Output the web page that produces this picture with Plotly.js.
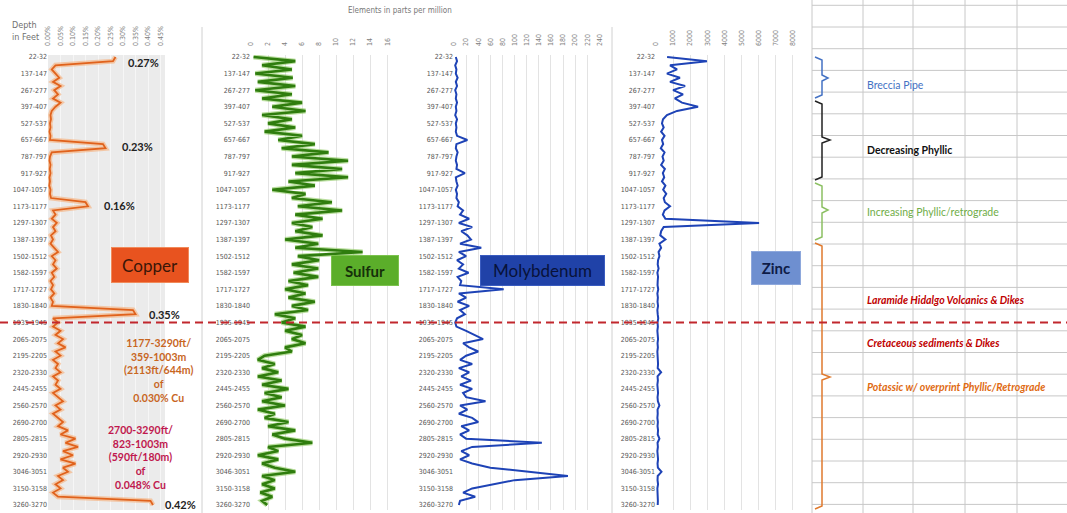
<!DOCTYPE html>
<html><head><meta charset="utf-8">
<script src="https://cdn.plot.ly/plotly-3.0.1.min.js"></script>
<style>html,body{margin:0;padding:0;background:#fff;}#chart{width:1067px;height:513px;}</style>
</head><body><div id="chart"></div>
<script>
// ---- data ----
const depthLabels = ["22-32","137-147","267-277","397-407","527-537","657-667","787-797","917-927","1047-1057","1173-1177","1297-1307","1387-1397","1502-1512","1582-1597","1717-1727","1830-1840","1935-1945","2065-2075","2195-2205","2320-2330","2445-2455","2560-2570","2690-2700","2805-2815","2920-2930","3046-3051","3150-3158","3260-3270"];
const samplesPerLabel = 4;
const copperPct = [
 0.27,0.26,0.03,0.015,0.03,0.045,0.02,0.05,0.025,0.04,
 0.02,0.05,0.03,0.015,0.01,0.012,0.008,0.01,0.006,0.01,
 0.008,0.22,0.23,0.015,0.008,0.006,0.01,0.007,0.01,0.006,
 0.008,0.005,0.01,0.008,0.012,0.15,0.16,0.02,0.03,0.015,
 0.035,0.02,0.03,0.012,0.02,0.01,0.025,0.04,0.015,0.03,
 0.02,0.035,0.015,0.025,0.01,0.02,0.012,0.025,0.01,0.02,
 0.015,0.34,0.35,0.02,0.04,0.02,0.05,0.03,0.06,0.04,
 0.07,0.03,0.05,0.02,0.04,0.03,0.05,0.02,0.04,0.03,
 0.05,0.02,0.04,0.06,0.03,0.05,0.02,0.04,0.06,0.04,
 0.08,0.05,0.11,0.07,0.12,0.06,0.10,0.05,0.11,0.06,
 0.08,0.04,0.06,0.03,0.05,0.02,0.04,0.41,0.42];
const sulfur = [
 0.3,5.2,1.3,4.8,0.5,4.9,0.8,5.2,0.5,4.8,
 1.3,6.0,2.5,6.4,1.3,4.8,2.0,5.2,1.6,6.0,
 3.2,7.5,3.6,9.1,4.8,11.4,4.8,10.7,5.2,11.4,
 4.4,7.5,2.5,6.4,4.8,9.5,5.5,10.7,5.2,8.4,
 4.8,7.2,5.2,8.4,4.0,7.9,5.2,13.1,5.5,8.0,
 4.8,7.9,5.0,7.9,4.4,6.7,4.0,6.4,4.4,7.5,
 4.8,6.7,2.8,5.2,3.6,6.4,4.0,6.0,4.8,6.4,
 4.0,4.8,1.6,0.8,2.8,1.3,3.2,0.8,3.6,1.3,
 4.4,1.6,3.6,1.3,4.0,0.8,2.8,1.6,4.4,2.0,
 5.2,2.5,4.0,7.2,2.0,3.2,0.8,3.2,1.3,2.8,
 5.2,1.3,2.8,1.3,2.8,1.1,2.5,1.3,1.9];
const molybdenum = [
 3,5,2,4,3,6,3,5,2,4,
 3,5,3,4,2,5,3,4,3,5,
 22,4,3,6,4,3,5,4,18,3,
 4,6,3,5,4,8,6,15,10,25,
 8,30,12,22,28,10,45,8,20,5,
 15,8,24,6,12,10,82,8,20,6,
 25,10,18,5,2,4,20,35,48,15,
 25,40,20,10,30,8,25,12,28,10,
 30,15,20,52,10,22,8,30,40,12,
 25,10,20,145,30,12,25,10,30,60,
 130,188,100,62,30,15,35,10,8];
const zinc = [
 650,2980,820,1230,640,1400,820,1700,1000,1580,
 1100,1520,2460,1230,640,410,350,450,300,500,
 350,420,280,500,380,450,300,520,400,480,
 350,550,420,600,450,520,820,500,400,550,
 6030,450,300,250,550,200,300,150,200,120,
 100,150,80,120,100,90,130,80,110,90,
 120,80,100,130,90,110,80,100,120,90,
 110,80,100,90,120,100,300,90,110,80,
 100,120,90,110,200,90,100,80,110,90,
 120,100,200,90,110,80,100,120,90,110,
 320,100,90,120,80,100,90,110,100];
const panelNames = ["Copper","Sulfur","Molybdenum","Zinc"];
const zoneLabels = ["Breccia Pipe","Decreasing Phyllic","Increasing Phyllic/retrograde","Laramide Hidalgo Volcanics & Dikes","Cretaceous sediments & Dikes","Potassic w/ overprint Phyllic/Retrograde"];
const copperPeakLabels = ["0.27%","0.23%","0.16%","0.35%","0.42%"];
const copperSummary1 = ["1177-3290ft/","359-1003m","(2113ft/644m)","of","0.030% Cu"];
const copperSummary2 = ["2700-3290ft/","823-1003m","(590ft/180m)","of","0.048% Cu"];

// ---- layout helpers ----
const W=1067,H=513;
const px = v => v/W, py = v => 1 - v/H;
const idx = arr => arr.map((_,i)=>i);
const tickvals = depthLabels.map((_,i)=>i*samplesPerLabel);
const NARROW = "Liberation Sans Narrow, DejaVu Sans Condensed, Arial Narrow, sans-serif";
const yDom = [py(510), py(55)];
const yRange = [109.2, -0.48];

function yax(anchor){
  return {domain:yDom, range:yRange, anchor:anchor, tickvals:tickvals, ticktext:depthLabels,
    tickfont:{family:NARROW,size:7,color:'#555'}, showgrid:false, zeroline:false, showline:false, ticks:'', fixedrange:true};
}
function xax(anchor, d0, d1, range, dtick, extra){
  return Object.assign({domain:[px(d0),px(d1)], range:range, anchor:anchor, side:'top', dtick:dtick, tick0:0,
    tickangle:-90, ticklabelstandoff:8, tickfont:{family:NARROW,size:7,color:'#808080'}, showgrid:true, gridcolor:'#e3e3e3',
    zeroline:false, showline:false, ticks:'', fixedrange:true}, extra||{});
}

const traces = [
  {x:copperPct, y:idx(copperPct), xaxis:'x', yaxis:'y', mode:'lines', line:{color:'rgba(246,178,128,0.65)',width:5}},
  {x:copperPct, y:idx(copperPct), xaxis:'x', yaxis:'y', mode:'lines', line:{color:'#E0621C',width:1.8}},
  {x:sulfur, y:idx(sulfur), xaxis:'x2', yaxis:'y2', mode:'lines', line:{color:'rgba(130,195,80,0.55)',width:5}},
  {x:sulfur, y:idx(sulfur), xaxis:'x2', yaxis:'y2', mode:'lines', line:{color:'#2F7D0E',width:2.6}},
  {x:molybdenum, y:idx(molybdenum), xaxis:'x3', yaxis:'y3', mode:'lines', line:{color:'#1E43B6',width:2}},
  {x:zinc, y:idx(zinc), xaxis:'x4', yaxis:'y4', mode:'lines', line:{color:'#1E43B6',width:2}}
];

const shapes = [];
shapes.push({type:'rect', xref:'x domain', yref:'y domain', x0:0,x1:1,y0:0,y1:1, fillcolor:'#ebebeb', line:{width:0}, layer:'below'});
[202,612].forEach(x=>shapes.push({type:'line',xref:'paper',yref:'paper',x0:px(x),x1:px(x),y0:py(27),y1:py(513),line:{color:'#d0d0d0',width:1}}));
[812,863,913,965,1017].forEach(x=>shapes.push({type:'line',xref:'paper',yref:'paper',x0:px(x),x1:px(x),y0:0,y1:1,line:{color:'#c8c8c8',width:1}}));
for(let k=0;k<24;k++){const y=5.3+21.7*k; shapes.push({type:'line',xref:'paper',yref:'paper',x0:px(812),x1:1,y0:py(y),y1:py(y),line:{color:'#c8c8c8',width:1}});}
function brace(top,bot,mid,tipx,color){
  const xl=px(815), xv=px(822), xt=px(tipx);
  const t=py(top), b=py(bot), m=py(mid), r=3/H;
  return {type:'path', xref:'paper', yref:'paper',
    path:`M ${xl},${t} L ${xv},${t-r} L ${xv},${m+r} L ${xt},${m} L ${xv},${m-r} L ${xv},${b+r} L ${xl},${b}`,
    line:{color:color,width:1.5}};
}
shapes.push(brace(57,98,78,828,'#4472C4'));
shapes.push(brace(101,180,140,830,'#222222'));
shapes.push(brace(183,240,210,828,'#8CC063'));
shapes.push(brace(243,509,377,830,'#E07A2E'));
shapes.push({type:'line',xref:'paper',yref:'paper',x0:0,x1:1,y0:py(322.5),y1:py(322.5),line:{color:'#C1272D',width:2,dash:'8px,5px'}});

const ann = [];
function txt(text,x,y,opts){ann.push(Object.assign({text:text,x:px(x),y:py(y),xref:'paper',yref:'paper',showarrow:false,xanchor:'center',yanchor:'middle'},opts||{}));}
txt('Depth<br>in Feet',10,31,{xanchor:'left',align:'left',font:{family:NARROW,size:9,color:'#707070'}});
txt('Elements in parts per million',400,11,{font:{family:NARROW,size:8,color:'#777'}});
const boxStyle = [
  {x:150,y:265,w:72,h:30,bg:'#E8531F',bc:'#F08A5A',fc:'#3A1608',size:17,bold:false},
  {x:365,y:270,w:62,h:25,bg:'#5BAE2A',bc:'#7CC24E',fc:'#16300A',size:15,bold:true},
  {x:542,y:270,w:119,h:25,bg:'#2042A8',bc:'#3A5CC0',fc:'#08123A',size:17,bold:false},
  {x:776,y:268,w:44,h:28,bg:'#6E8FD0',bc:'#8EA8DC',fc:'#0E1C48',size:15,bold:true}
];
panelNames.forEach((n,i)=>{const s=boxStyle[i];
  txt(s.bold?'<b>'+n+'</b>':n,s.x,s.y,{bgcolor:s.bg,bordercolor:s.bc,borderwidth:1,borderpad:2,width:s.w,height:s.h,font:{family:'Lato, sans-serif',size:s.size,color:s.fc}});
});
const peakPos=[[143,62],[137,147],[119,205],[164,314],[180,504]];
copperPeakLabels.forEach((t,i)=>txt('<b>'+t+'</b>',peakPos[i][0],peakPos[i][1],{font:{family:'Lato, sans-serif',size:11,color:'#222'}}));
txt('<b>'+copperSummary1.join('<br>')+'</b>',158,370,{font:{family:'Lato, sans-serif',size:10.5,color:'#C8661F'}});
txt('<b>'+copperSummary2.join('<br>')+'</b>',140,457,{font:{family:'Lato, sans-serif',size:10.5,color:'#C0184E'}});
const zoneStyle=[
  [85,'#4472C4',false,false],[150,'#111111',true,false],[212,'#70AD47',false,false],
  [300,'#C00000',true,true],[343,'#C00000',true,true],[387,'#E06A12',true,true]];
zoneLabels.forEach((t,i)=>{const [y,c,b,it]=zoneStyle[i];
  let s=t; if(b) s='<b>'+s+'</b>'; if(it) s='<i>'+s+'</i>';
  txt(s,865,y,{xanchor:'left',font:{family:'Lato, sans-serif',size:10.5,color:c}});
});

const layout = {
  width:W, height:H, margin:{l:0,r:0,t:0,b:0}, paper_bgcolor:'#fff', plot_bgcolor:'rgba(0,0,0,0)',
  showlegend:false, hovermode:false,
  xaxis: xax('y',48,165,[0,0.468],0.05,{tickformat:'.2f',ticksuffix:'%',gridcolor:'#f6f6f6'}),
  yaxis: yax('x'),
  xaxis2: xax('y2',251,400,[0,17.5],2),
  yaxis2: yax('x2'),
  xaxis3: xax('y3',454,600,[0,241],20),
  yaxis3: yax('x3'),
  xaxis4: xax('y4',656,805,[0,8716],1000),
  yaxis4: yax('x4'),
  shapes:shapes, annotations:ann
};
Plotly.newPlot('chart', traces, layout, {staticPlot:true, displayModeBar:false});
</script></body></html>
